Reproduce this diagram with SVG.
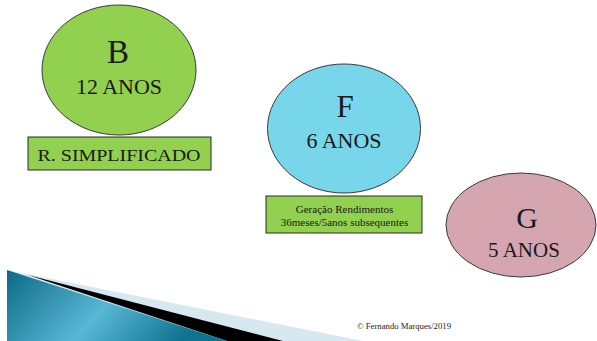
<svg xmlns="http://www.w3.org/2000/svg" width="597" height="341" viewBox="0 0 597 341">
<defs>
<style>
.el{stroke:#3a3a3a;stroke-width:1}
.box{fill:#92d050;stroke:#2b2b2b;stroke-width:1}
text{font-family:'Liberation Serif','Times New Roman',Times,serif;fill:#1a1a1a;text-anchor:middle}
</style>
<linearGradient id="teal" x1="0" y1="0" x2="1" y2="0.3">
<stop offset="0" stop-color="#0c6a85"/>
<stop offset="0.55" stop-color="#58b7d5"/>
<stop offset="1" stop-color="#0e7390"/>
</linearGradient>
</defs>
<rect width="597" height="341" fill="#ffffff"/>
<g id="footer-shape">
<polygon points="7,270 363,341 7,341" fill="#d6e9f1"/>
<polygon points="28,275 283,341 227,341" fill="#000000"/>
<polygon points="7,270 227,341 7,341" fill="url(#teal)"/>
</g>
<g id="node-B">
<ellipse class="el" cx="119" cy="70" rx="77" ry="65" fill="#92d050"/>
<text x="118" y="63" font-size="33" font-family="Liberation Serif, serif">B</text>
<text x="119" y="94" font-size="22" font-family="Liberation Serif, serif">12 ANOS</text>
</g>
<g id="label-B">
<rect class="box" x="28" y="137" width="183" height="33"/>
<text x="119" y="161" font-size="17" font-family="Liberation Serif, serif" textLength="163" lengthAdjust="spacingAndGlyphs">R. SIMPLIFICADO</text>
</g>
<g id="node-F">
<ellipse class="el" cx="344" cy="128.5" rx="76.5" ry="64.5" fill="#78d6eb"/>
<text x="345" y="117" font-size="31" font-family="Liberation Serif, serif">F</text>
<text x="344" y="148" font-size="22" font-family="Liberation Serif, serif">6 ANOS</text>
</g>
<g id="label-F">
<rect class="box" x="266" y="196" width="156" height="37"/>
<text x="344.5" y="212.5" font-size="11" font-family="Liberation Serif, serif">Geração Rendimentos</text>
<text x="344.5" y="225.5" font-size="11" font-family="Liberation Serif, serif">36meses/5anos subsequentes</text>
</g>
<g id="node-G">
<ellipse class="el" cx="521" cy="225" rx="75" ry="52" fill="#d5a6b0"/>
<text x="527" y="228" font-size="30" font-family="Liberation Serif, serif">G</text>
<text x="524" y="257" font-size="21" font-family="Liberation Serif, serif">5 ANOS</text>
</g>
<g id="connectors"></g>
<text x="404" y="329" font-size="8" font-family="Liberation Serif, serif" textLength="94" lengthAdjust="spacingAndGlyphs">© Fernando Marques/2019</text>
</svg>
